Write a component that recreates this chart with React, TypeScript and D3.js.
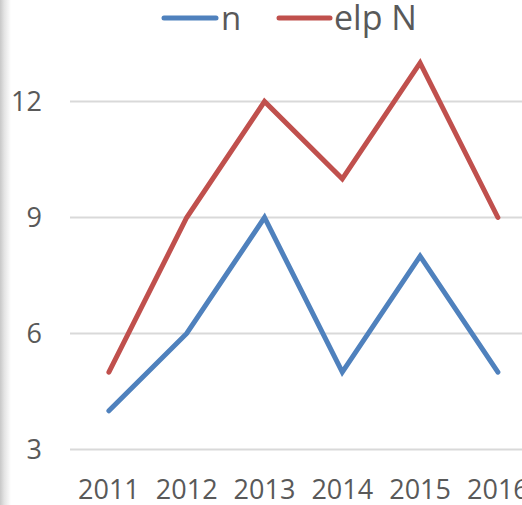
import React from "react";
import * as d3 from "d3";

const categories = ["2011", "2012", "2013", "2014", "2015", "2016"];
const seriesN = [4, 6, 9, 5, 8, 5];
const seriesElpN = [5, 9, 12, 10, 13, 9];
const yTicks = [3, 6, 9, 12];
const seriesNames = ["n", "elp N"];
const colors = ["#4F81BD", "#C0504D"];

export default function App() {
  const W = 522, H = 505;
  const x = d3.scaleBand<string>().domain(categories).range([70, 70 + 77.8 * 6]);
  const y = d3.scaleLinear().domain([3, 12]).range([449.5, 101.5]);
  const line = d3
    .line<number>()
    .x((_, i) => (x(categories[i]) as number) + x.bandwidth() / 2)
    .y((d) => y(d));
  const series = [seriesN, seriesElpN];
  const font = "'Open Sans', sans-serif";
  const txt = "#595959";
  return (
    <svg width={W} height={H} style={{ position: "absolute", left: 0, top: 0, background: "#fff" }}>
      <defs>
        <linearGradient id="shadow" x1="0" x2="1" y1="0" y2="0">
          <stop offset="0" stopColor="#c8c8c8" />
          <stop offset="0.4" stopColor="#e4e4e4" />
          <stop offset="1" stopColor="#ffffff" />
        </linearGradient>
      </defs>
      <rect x={0} y={0} width={W} height={H} fill="#fff" />
      <rect x={0} y={0} width={11} height={H} fill="url(#shadow)" />
      {yTicks.map((t) => (
        <g key={t}>
          <line x1={70} x2={W} y1={y(t)} y2={y(t)} stroke="#d9d9d9" strokeWidth={2} />
          <text x={42} y={y(t)} dy="0.36em" textAnchor="end" fontFamily={font} fontSize={27} fill={txt}>
            {t}
          </text>
        </g>
      ))}
      {categories.map((c) => (
        <text key={c} x={(x(c) as number) + x.bandwidth() / 2} y={499} textAnchor="middle" fontFamily={font} fontSize={27} fill={txt}>
          {c}
        </text>
      ))}
      {series.map((s, i) => (
        <path key={i} d={line(s) || ""} fill="none" stroke={colors[i]} strokeWidth={5} strokeLinecap="round" strokeLinejoin="miter" />
      ))}
      <g>
        <line x1={164} x2={216} y1={18} y2={18} stroke={colors[0]} strokeWidth={5} strokeLinecap="round" />
        <text x={221} y={30} fontFamily={font} fontSize={33} fill={txt}>{seriesNames[0]}</text>
        <line x1={279} x2={330} y1={18} y2={18} stroke={colors[1]} strokeWidth={5} strokeLinecap="round" />
        <text x={334} y={30} fontFamily={font} fontSize={34} fill={txt}>{seriesNames[1]}</text>
      </g>
    </svg>
  );
}
